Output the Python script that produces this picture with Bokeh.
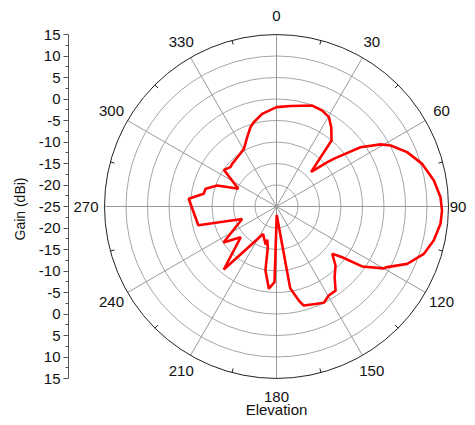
import numpy as np
from bokeh.plotting import figure
from bokeh.models import FixedTicker, Range1d
from bokeh.core.properties import value
from bokeh.embed import file_html
from bokeh.resources import INLINE

# Elevation angle (deg, clockwise from top) and gain (dBi)
angle_deg = [0, 8, 19.5, 25.5, 30.4, 34.6, 39.8, 45, 49, 50.2, 53.4, 54.8, 59.2, 61.9,
             67.4, 73.7, 80.6, 86.8, 91.4, 96, 102.2, 107.8, 113.7, 118.7, 120.1, 125,
             127.7, 130.3, 135, 140.6, 144.9, 149.6, 153.8, 158.2, 164.6, 166.5, 170.5,
             178.5, 181.5, 185.3, 189.8, 192, 195.6, 196.1, 206, 219.9, 229.3, 235.8,
             250, 256.5, 275, 280, 284, 289.5, 295, 304.9, 310.5, 313.9, 323.5, 330.5,
             337.1, 341.8, 344.9, 351.2, 360]
gain_dbi = [-1.9, -1.4, -0.1, -0.3, -0.9, -2.6, -5.0, -13.6, -9.3, -7.7, -3.6, -1.1, 3.2, 5.1,
            7.9, 10.3, 12.1, 13.2, 13.5, 13.35, 12.4, 11.0, 8.2, 4.35, 3.7, -0.7,
            -5.7, -8.0, -5.6, -3.7, -1.1, -1.0, -0.05, -0.6, -1.1, -2.4, -5.7,
            -23.0, -7.4, -5.8, -9.9, -15.25, -17.0, -15.8, -17.9, -5.9, -14.0, -10.1,
            -16.5, -6.3, -4.5, -7.8, -8.0, -10.4, -15.2, -10.1, -10.9, -10.7, -10.25, -9.6,
            -7.5, -5.6, -4.7, -3.2, -1.9]

ring_db = [-20, -15, -10, -5, 0, 5, 10]
outer_db = 15
center_db = -25
spoke_deg = [0, 30, 60, 90, 120, 150, 180, 210, 240, 270, 300, 330]
spoke_labels = ["0", "30", "60", "90", "120", "150", "180", "210", "240", "270", "300", "330"]
minor_deg = [15, 45, 75, 105, 135, 165, 195, 225, 255, 285, 315, 345]
gain_ticks = [15, 10, 5, 0, -5, -10, -15, -20, -25]

PX = 4.3  # px per dB
W, H = 467, 417
left = 68
cx_px, cy_px = 276.0, 206.0
fw = W - left
x0 = -(cx_px - left) / PX
x1 = x0 + fw / PX
y1 = cy_px / PX
y0 = y1 - H / PX

p = figure(width=W, height=H, x_range=Range1d(x0, x1), y_range=Range1d(y0, y1),
           output_backend="svg", toolbar_location=None, x_axis_location=None,
           y_axis_location="left", min_border_left=left, min_border_right=0,
           min_border_top=0, min_border_bottom=0)
p.outline_line_color = None
p.xgrid.visible = False
p.ygrid.visible = False

Rmax = outer_db - center_db
# rings
p.circle(x=[0] * len(ring_db), y=[0] * len(ring_db), radius=[d - center_db for d in ring_db],
         fill_color=None, line_color="#a6a6a6", line_width=1)
# spokes
th = np.radians(spoke_deg)
p.segment(x0=[0] * len(th), y0=[0] * len(th), x1=Rmax * np.sin(th), y1=Rmax * np.cos(th),
          line_color="#9a9a9a", line_width=1)
# outer circle
p.circle(x=[0], y=[0], radius=[Rmax], fill_color=None, line_color="#222222", line_width=1)
# minor ticks on outer circle
tm = np.radians(minor_deg)
p.segment(x0=(Rmax - 1.0) * np.sin(tm), y0=(Rmax - 1.0) * np.cos(tm),
          x1=Rmax * np.sin(tm), y1=Rmax * np.cos(tm), line_color="#222222", line_width=1)

# data curve
a = np.radians(angle_deg)
r = np.array(gain_dbi) - center_db
p.line(x=r * np.sin(a), y=r * np.cos(a), line_color="#ff0000", line_width=2.6)

# angle labels
rl = 44.3
lx = np.minimum(rl * np.sin(th), x1 - 9.5 / PX)
p.text(x=lx, y=rl * np.cos(th), text=spoke_labels, text_align="center",
       text_baseline="middle", text_font=value("Liberation Sans"), text_font_size="15px",
       text_color="#111111")
p.text(x=[0], y=[y0 + 8.5 / PX], text=["Elevation"], text_align="center",
       text_baseline="middle",
       text_font=value("Liberation Sans"), text_font_size="15px", text_color="#111111")

# gain axis
ax = p.yaxis[0]
pos = sorted(set([g - center_db for g in gain_ticks] + [-(g - center_db) for g in gain_ticks]))
minor = [v + 2.5 for v in pos[:-1]]
ax.ticker = FixedTicker(ticks=pos, minor_ticks=minor)
ax.major_label_overrides = {v: str(int(abs(v) + center_db)) for v in pos}
ax.bounds = (-Rmax, Rmax)
ax.axis_line_color = "#555555"
ax.major_tick_line_color = "#555555"
ax.minor_tick_line_color = "#555555"
ax.major_tick_out = 5
ax.major_tick_in = 0
ax.minor_tick_out = 3
ax.minor_tick_in = 0
ax.major_label_standoff = 3
ax.major_label_text_font = "Liberation Sans"
ax.major_label_text_font_size = "15px"
ax.major_label_text_color = "#111111"
ax.axis_label = "Gain (dBi)"
ax.axis_label_text_font = "Liberation Sans"
ax.axis_label_text_font_size = "14px"
ax.axis_label_text_font_style = "normal"
ax.axis_label_text_color = "#111111"
ax.axis_label_standoff = 8

open("out.html", "w").write(file_html(p, INLINE))
